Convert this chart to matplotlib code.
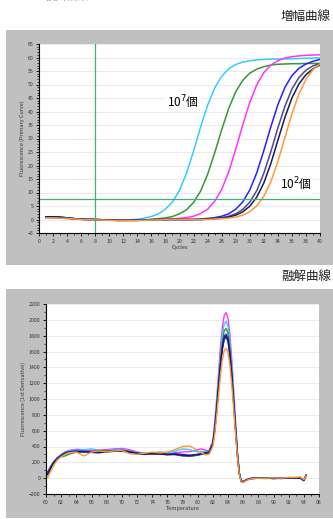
import matplotlib
matplotlib.use("Agg")
import matplotlib.pyplot as plt
from matplotlib.patches import Rectangle
from matplotlib.ticker import MultipleLocator

plt.rcParams['font.family'] = ['Noto Sans CJK JP', 'DejaVu Sans']

# amplification curves, cycles 1..40
cycles = list(range(1, 41))
amp_cyan = [0.8, 0.8, 0.7, 0.5, 0.3, 0.1, 0.0, 0.0, -0.1, -0.2, -0.3, -0.3, -0.1, 0.1, 0.5, 1.1,
            2.1, 3.8, 6.5, 10.8, 17.2, 25.3, 34.2, 42.3, 48.7, 53.0, 55.8, 57.4, 58.3, 58.8,
            59.1, 59.3, 59.4, 59.4, 59.5, 59.5, 59.6, 59.7, 59.8, 59.9]
amp_green = [0.9, 0.8, 0.7, 0.5, 0.3, 0.1, 0.0, 0.0, -0.1, -0.2, -0.3, -0.3, -0.3, -0.3, -0.2, 0.1,
             0.3, 0.6, 1.1, 2.1, 3.6, 6.3, 10.5, 16.7, 24.6, 33.2, 41.1, 47.3, 51.5, 54.2,
             55.7, 56.6, 57.2, 57.5, 57.6, 57.7, 57.7, 57.8, 57.8, 57.8]
amp_magenta = [0.7, 0.7, 0.6, 0.4, 0.2, 0.1, 0.0, -0.1, -0.1, -0.2, -0.3, -0.3, -0.3, -0.3, -0.2, -0.1,
               0.0, 0.0, 0.2, 0.4, 0.7, 1.2, 2.2, 3.8, 6.7, 11.1, 17.6, 26.0, 35.0, 43.4,
               49.9, 54.4, 57.2, 58.8, 59.8, 60.3, 60.6, 60.8, 60.9, 61.0]
amp_blue = [0.8, 0.8, 0.7, 0.5, 0.3, 0.1, 0.0, 0.0, -0.1, -0.2, -0.3, -0.3, -0.3, -0.3, -0.2, -0.1,
            0.0, 0.0, 0.0, 0.0, 0.0, 0.0, 0.2, 0.4, 0.7, 1.2, 2.1, 3.8, 6.5, 10.9,
            17.3, 25.5, 34.3, 42.5, 48.9, 53.3, 56.0, 57.6, 58.6, 59.3]
amp_slate = [1.0, 1.0, 0.9, 0.6, 0.3, 0.1, 0.0, 0.0, -0.1, -0.2, -0.3, -0.3, -0.3, -0.3, -0.2, -0.1,
             0.0, 0.0, 0.0, 0.0, 0.0, 0.0, 0.0, 0.2, 0.4, 0.7, 1.2, 2.1, 3.7, 6.4,
             10.7, 17.1, 25.1, 33.9, 41.9, 48.3, 52.6, 55.3, 56.9, 57.8]
amp_navy = [1.0, 1.0, 0.9, 0.6, 0.3, 0.1, 0.0, 0.0, -0.1, -0.2, -0.3, -0.3, -0.3, -0.3, -0.2, -0.1,
            0.0, 0.0, 0.0, 0.0, 0.0, 0.0, 0.0, 0.2, 0.3, 0.5, 0.9, 1.6, 2.8, 4.9,
            8.3, 13.5, 20.7, 29.3, 37.8, 45.0, 50.2, 53.6, 55.8, 57.2]
amp_orange = [0.6, 0.6, 0.5, 0.4, 0.2, 0.0, -0.1, -0.1, -0.2, -0.3, -0.4, -0.4, -0.4, -0.4, -0.3, -0.2,
              -0.1, 0.0, 0.0, 0.0, 0.0, 0.0, 0.0, 0.0, 0.2, 0.3, 0.5, 0.9, 1.6, 2.9,
              5.0, 8.6, 14.0, 21.4, 30.3, 39.1, 46.5, 51.9, 55.5, 57.7]

amp_series = [amp_cyan, amp_green, amp_magenta, amp_blue, amp_slate, amp_navy, amp_orange]
threshold = 7.5
baseline_end = 8

# melting curves (1st derivative)
temps = [60.2, 60.6, 61.0, 61.5, 62, 62.5, 63, 64, 65, 66, 67, 68, 69, 70, 71, 72, 73, 74, 75,
         76, 77, 78, 79, 80, 80.5, 81, 81.5, 82, 82.25, 82.5, 82.75, 83, 83.25, 83.5, 83.75,
         84, 84.25, 84.5, 84.75, 85, 85.25, 85.5, 85.75, 86, 86.5, 87, 88, 89, 90, 91, 92,
         93, 93.5, 94, 94.3]
melt_magenta = [60, 130, 200, 260, 300, 330, 350, 365, 360, 350, 355, 360, 370, 375, 360, 330, 315,
                320, 325, 310, 320, 330, 335, 360, 370, 355, 345, 470,
                704, 990, 1320, 1650, 1903, 2057, 2090, 2024, 1815, 1496, 1100, 704, 330,
                70, -30, -40, -15, -5, 0, 5, -5, 0, 10, 0, 15, -25, 40]
melt_cyan = [80, 150, 210, 255, 300, 325, 345, 355, 360, 370, 350, 340, 365, 360, 345, 325, 320,
             315, 330, 320, 340, 370, 360, 330, 340, 340, 335, 450,
             667, 938, 1250, 1563, 1803, 1949, 1980, 1917, 1719, 1417, 1042, 667, 313,
             65, -35, -40, -15, -5, 5, 0, -5, 5, 5, 10, 5, -20, 45]
melt_green = [40, 120, 200, 250, 270, 280, 300, 330, 340, 330, 350, 345, 340, 355, 340, 315, 300,
              310, 300, 310, 300, 280, 275, 290, 300, 310, 325, 440,
              637, 895, 1194, 1492, 1721, 1861, 1890, 1831, 1642, 1353, 995, 637, 298,
              55, -40, -45, -20, -5, 0, -5, 5, 0, 5, 0, 10, -30, 35]
melt_blue = [70, 140, 200, 255, 290, 320, 335, 345, 340, 335, 345, 330, 350, 345, 335, 320, 305,
             310, 315, 300, 310, 300, 290, 300, 310, 320, 330, 440,
             613, 862, 1150, 1437, 1657, 1791, 1820, 1763, 1581, 1303, 958, 613, 287,
             55, -40, -45, -20, -5, 0, 0, -5, 0, 5, 5, 0, -30, 40]
melt_slate = [60, 130, 190, 245, 285, 310, 330, 335, 330, 330, 335, 330, 340, 345, 330, 315, 305,
              300, 305, 300, 300, 285, 280, 290, 305, 315, 325, 430,
              600, 843, 1124, 1405, 1621, 1752, 1780, 1724, 1546, 1274, 937, 600, 281,
              50, -45, -45, -20, -5, 5, 0, 0, 5, 0, 5, 5, -25, 35]
melt_navy = [50, 120, 190, 240, 280, 310, 325, 330, 335, 325, 320, 335, 340, 340, 330, 310, 300,
             320, 305, 295, 300, 290, 285, 300, 305, 320, 320, 430,
             606, 852, 1136, 1421, 1638, 1771, 1800, 1742, 1562, 1288, 947, 606, 284,
             50, -45, -50, -20, -5, 0, 5, 0, -5, 5, 0, 5, -30, 30]
melt_orange = [0, 80, 160, 230, 270, 300, 320, 330, 280, 330, 345, 330, 345, 350, 310, 300, 315,
               330, 320, 330, 360, 400, 405, 350, 320, 295, 300, 400,
               552, 777, 1036, 1295, 1493, 1614, 1640, 1588, 1424, 1174, 863, 552, 259,
               45, -50, -55, -25, -10, 0, 0, 5, 0, 10, 10, 15, -20, 30]

melt_series = [melt_magenta, melt_cyan, melt_green, melt_blue, melt_slate, melt_navy, melt_orange]
melt_colors = ['#ff33ff', '#33ccff', '#339933', '#2222ff', '#4a4a8a', '#1a1a66', '#ff9933']
amp_colors = ['#33ccff', '#339933', '#ff33ff', '#2222ff', '#4a4a8a', '#1a1a66', '#ff9933']

W, H = 333, 519
fig = plt.figure(figsize=(W / 100, H / 100), dpi=100)

# grey panels behind the two screenshots (a background axes keeps them under the plots)
bg = fig.add_axes([0, 0, 1, 1], zorder=-10)
bg.set_xlim(0, W)
bg.set_ylim(H, 0)
bg.axis('off')
gray = '#c0c0c0'
bg.add_patch(Rectangle((6, 30), W, 235, facecolor=gray, edgecolor='none'))
bg.add_patch(Rectangle((6, 289), W, 229, facecolor=gray, edgecolor='none'))

fig.text(45 / W, 1.006, '検出結果', fontsize=8, color='#888888', va='center', ha='left')
fig.text(281 / W, 1 - 16 / H, '増幅曲線', fontsize=9, color='#222222', va='center', ha='left')
fig.text(281 / W, 1 - 276 / H, '融解曲線', fontsize=9, color='#222222', va='center', ha='left')


def style_axes(ax):
    ax.set_facecolor('white')
    for s in ['top', 'right']:
        ax.spines[s].set_visible(False)
    for s in ['left', 'bottom']:
        ax.spines[s].set_linewidth(0.8)
    ax.tick_params(which='major', length=2.5, width=0.6, labelsize=3.8, labelcolor='#333333', pad=1.5)
    ax.tick_params(which='minor', length=1.5, width=0.5)
    ax.grid(True, axis='y', color='#e6e6e6', linewidth=0.6)
    ax.set_axisbelow(True)


# amplification plot
ax1 = fig.add_axes([39 / W, 1 - 233 / H, 281 / W, 189 / H])
style_axes(ax1)
for vals, col in zip(amp_series, amp_colors):
    ax1.plot(cycles, vals, color=col, linewidth=1.1)
ax1.axhline(threshold, color='#3cb371', linewidth=0.9)
ax1.axvline(baseline_end, color='#3cb371', linewidth=0.9)
ax1.set_xlim(0, 40)
ax1.set_ylim(-5, 65)
ax1.xaxis.set_major_locator(MultipleLocator(2))
ax1.xaxis.set_minor_locator(MultipleLocator(1))
ax1.yaxis.set_major_locator(MultipleLocator(5))
ax1.yaxis.set_minor_locator(MultipleLocator(1))
ax1.set_xlabel('Cycles', fontsize=4, color='#333333', labelpad=1)
ax1.set_ylabel('Fluorescence (Primary Curve)', fontsize=4, color='#333333', labelpad=2)
box = dict(facecolor='white', edgecolor='none', pad=1)
ax1.text(18.2, 43.5, '10$^7$個', fontsize=8.5, va='center', ha='left', bbox=box)
ax1.text(34.3, 13.1, '10$^2$個', fontsize=8.5, va='center', ha='left', bbox=box)

# melting plot
ax2 = fig.add_axes([46 / W, 1 - 494 / H, 273 / W, 190 / H])
style_axes(ax2)
for vals, col in zip(melt_series, melt_colors):
    ax2.plot(temps, vals, color=col, linewidth=1.0)
ax2.set_xlim(60, 96)
ax2.set_ylim(-200, 2200)
ax2.xaxis.set_major_locator(MultipleLocator(2))
ax2.xaxis.set_minor_locator(MultipleLocator(1))
ax2.yaxis.set_major_locator(MultipleLocator(200))
ax2.yaxis.set_minor_locator(MultipleLocator(100))
ax2.set_xlabel('Temperature', fontsize=4, color='#333333', labelpad=1)
ax2.set_ylabel('Fluorescence (1st Derivative)', fontsize=4, color='#333333', labelpad=2)

fig.savefig('out.png', dpi=100)
